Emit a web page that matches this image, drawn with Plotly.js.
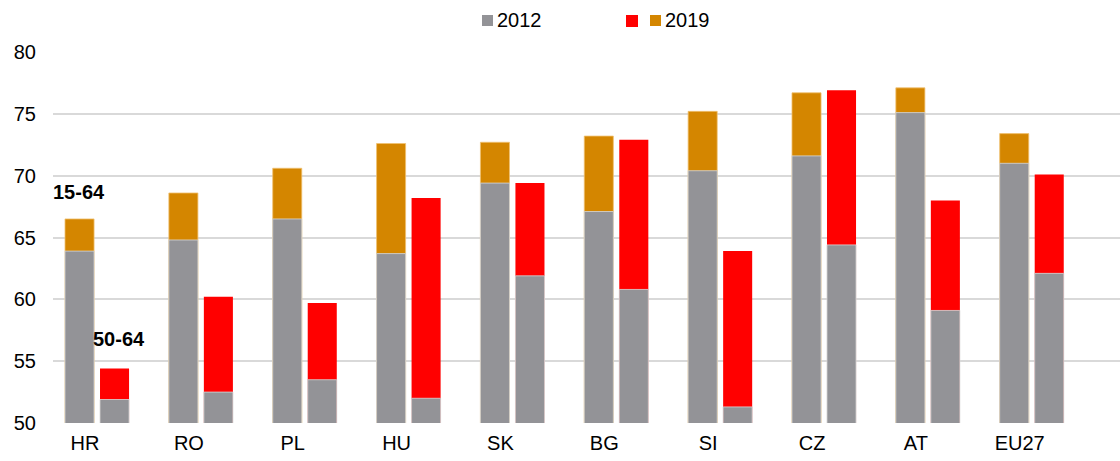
<!DOCTYPE html>
<html>
<head>
<meta charset="utf-8">
<script src="https://cdn.plot.ly/plotly-3.0.1.min.js"></script>
<style>html,body{margin:0;padding:0;background:#fff;}#chart{width:1120px;height:461px;}</style>
</head>
<body>
<div id="chart"></div>
<script>
const categories = ['HR','RO','PL','HU','SK','BG','SI','CZ','AT','EU27'];
const emp1564_2012 = [63.9, 64.8, 66.5, 63.7, 69.4, 67.1, 70.4, 71.6, 75.1, 71.0];
const emp1564_2019 = [66.5, 68.6, 70.6, 72.6, 72.7, 73.2, 75.2, 76.7, 77.1, 73.4];
const emp5064_2012 = [51.9, 52.5, 53.5, 52.0, 61.9, 60.8, 51.3, 64.4, 59.1, 62.1];
const emp5064_2019 = [54.4, 60.2, 59.7, 68.2, 69.4, 72.9, 63.9, 76.9, 68.0, 70.1];
const yTicks = [50, 55, 60, 65, 70, 75, 80];
const legendLabels = ['2012', '2019'];
const groupLabels = ['15-64', '50-64'];

const GRAY = '#939397', ORANGE = '#D48600', RED = '#FF0000';
const FONT = 'Liberation Sans, Arial, sans-serif';

function bar(y, color, group, edge, w) {
  return {type: 'bar', x: categories, y: y, offsetgroup: group, showlegend: false,
    hoverinfo: 'x+y',
    marker: {color: color, line: {color: edge, width: w}}};
}

const data = [
  bar(emp1564_2019, ORANGE, 'a', '#f0c070', 0.8),
  bar(emp1564_2012, GRAY, 'a', '#d8d8d8', 0.8),
  bar(emp5064_2019, RED, 'b', RED, 0),
  bar(emp5064_2012, GRAY, 'b', '#d8d8d8', 0.8)
];

const W = 1067, H = 371; // plot area size in px
const px = v => (v - 53) / W;
const py = v => 1 + (52 - v) / H;

const layout = {
  width: 1120, height: 461,
  margin: {l: 53, r: 0, t: 52, b: 38},
  paper_bgcolor: '#fff', plot_bgcolor: '#fff',
  font: {family: FONT, size: 20, color: '#000'},
  barmode: 'group', bargap: 0.326, bargroupgap: 0.17,
  showlegend: false,
  xaxis: {type: 'category', range: [-0.424, 9.85], showgrid: false, zeroline: false,
    showline: false, ticks: '', tickfont: {size: 20}, ticklabelshift: -12, ticklabelstandoff: 6},
  yaxis: {range: [50, 80], tickvals: yTicks, showgrid: true, gridcolor: '#d9d9d9', gridwidth: 2,
    zeroline: false, showline: false, ticks: '', tickfont: {size: 20}, ticklabelstandoff: 16},
  shapes: [
    {type: 'rect', xref: 'paper', yref: 'paper', x0: px(482), x1: px(493), y0: py(26), y1: py(15), fillcolor: GRAY, line: {width: 0}},
    {type: 'rect', xref: 'paper', yref: 'paper', x0: px(626), x1: px(638), y0: py(27), y1: py(15), fillcolor: RED, line: {width: 0}},
    {type: 'rect', xref: 'paper', yref: 'paper', x0: px(650), x1: px(661), y0: py(26), y1: py(15), fillcolor: ORANGE, line: {width: 0}}
  ],
  annotations: [
    {xref: 'paper', yref: 'paper', x: px(495), y: py(20), xanchor: 'left', yanchor: 'middle', text: legendLabels[0], showarrow: false, font: {size: 20}},
    {xref: 'paper', yref: 'paper', x: px(663), y: py(20), xanchor: 'left', yanchor: 'middle', text: legendLabels[1], showarrow: false, font: {size: 20}},
    {xref: 'x', yref: 'y', x: 0, y: 68.7, xshift: -18, text: '<b>' + groupLabels[0] + '</b>', showarrow: false, font: {size: 20}},
    {xref: 'x', yref: 'y', x: 0, y: 56.8, xshift: 22, text: '<b>' + groupLabels[1] + '</b>', showarrow: false, font: {size: 20}}
  ]
};

Plotly.newPlot('chart', data, layout, {displayModeBar: false, staticPlot: true});
</script>
</body>
</html>
